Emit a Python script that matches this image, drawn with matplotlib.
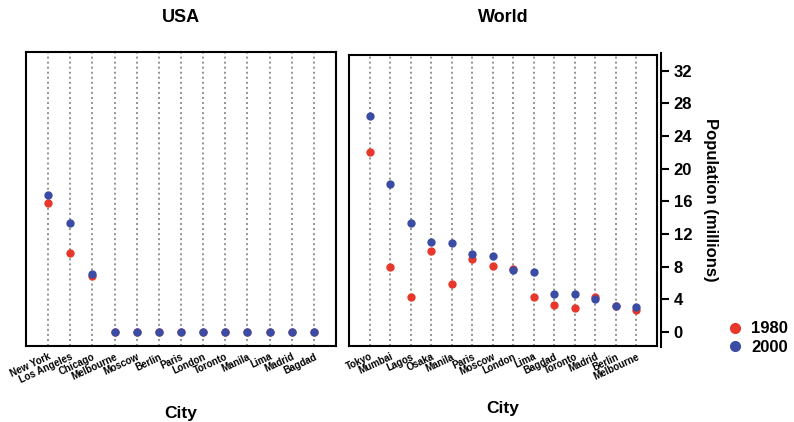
import matplotlib
matplotlib.use("Agg")
import matplotlib.pyplot as plt
from matplotlib.lines import Line2D
import numpy as np

plt.rcParams['font.family'] = ['Liberation Sans', 'DejaVu Sans']
plt.rcParams['font.weight'] = 'bold'

# ---------------- data ----------------
usa_cities = ["New York", "Los Angeles", "Chicago", "Melbourne", "Moscow", "Berlin",
              "Paris", "London", "Toronto", "Manila", "Lima", "Madrid", "Bagdad"]
usa_1980 = [15.8, 9.7, 6.9, 0, 0, 0, 0, 0, 0, 0, 0, 0, 0]
usa_2000 = [16.8, 13.3, 7.1, 0, 0, 0, 0, 0, 0, 0, 0, 0, 0]

world_cities = ["Tokyo", "Mumbai", "Lagos", "Osaka", "Manila", "Paris", "Moscow",
                "London", "Lima", "Bagdad", "Toronto", "Madrid", "Berlin", "Melbourne"]
world_1980 = [22.0, 8.0, 4.3, 9.9, 5.9, 8.9, 8.1, 7.7, 4.3, 3.3, 2.9, 4.3, 3.2, 2.7]
world_2000 = [26.5, 18.1, 13.4, 11.0, 10.9, 9.6, 9.3, 7.6, 7.35, 4.7, 4.6, 4.0, 3.2, 3.1]

years = ["1980", "2000"]
yticks = [0, 4, 8, 12, 16, 20, 24, 28, 32]

RED = "#E8382B"
BLUE = "#3B4CA5"

W, H = 794, 422
fig = plt.figure(figsize=(W / 100, H / 100), dpi=100)

# pixel -> data mapping for vertical scale (0 at y=332px, 8.166 px per unit)
def val(py):
    return (332 - py) / 8.166

def frac_box(x0, x1, y0, y1):
    return [x0 / W, 1 - y1 / H, (x1 - x0) / W, (y1 - y0) / H]


def panel(box, cities, v80, v00, title, ytop, ybot, label_pad):
    ax = fig.add_axes(box)
    x = np.arange(len(cities))
    ax.scatter(x, v80, s=36, color=RED, zorder=3, linewidths=0)
    ax.scatter(x, v00, s=36, color=BLUE, zorder=4, linewidths=0)
    ax.set_xlim(-1, len(cities))
    ax.set_ylim(val(ybot), val(ytop))
    ax.set_xticks(x)
    ax.set_xticklabels(cities, rotation=25, ha='right', va='top',
                       rotation_mode='anchor', fontsize=7, fontweight='bold')
    ax.tick_params(axis='x', length=0, pad=4)
    ax.set_yticks([])
    ax.grid(axis='x', linestyle=(0, (1.3, 2.0)), color='#777777', lw=1.1)
    ax.set_axisbelow(True)
    for s in ax.spines.values():
        s.set_linewidth(1.5)
        s.set_color('black')
    bb = ax.get_position()
    fig.text((bb.x0 + bb.x1) / 2, 1 - 17 / H, title, ha='center', va='center',
             fontsize=13, fontweight='bold')
    ax.set_xlabel("City", fontsize=12.5, fontweight='bold', labelpad=label_pad)
    return ax

ax1 = panel(frac_box(26, 336, 52, 346), usa_cities, usa_1980, usa_2000, "USA", 52, 346, 15)
ax2 = panel(frac_box(349, 657, 55, 346), world_cities, world_1980, world_2000, "World", 55, 346, 14)

# separate right y axis
ay = fig.add_axes(frac_box(660, 661, 53, 347))
ay.set_ylim(val(347), val(53))
ay.set_xticks([])
for k in ['left', 'top', 'bottom']:
    ay.spines[k].set_visible(False)
ay.spines['right'].set_linewidth(1.5)
ay.patch.set_alpha(0)
ay.yaxis.tick_right()
ay.set_yticks(yticks)
ay.set_yticklabels([str(t) for t in yticks], fontsize=12, fontweight='bold')
ay.tick_params(axis='y', direction='out', length=6, width=1.5, pad=3)
ay.yaxis.set_label_position('right')
ay.set_ylabel("Population (millions)", rotation=-90, fontsize=12, fontweight='bold',
              labelpad=19)

handles = [Line2D([], [], marker='o', ls='', color=RED, markersize=7),
           Line2D([], [], marker='o', ls='', color=BLUE, markersize=7)]
fig.legend(handles, years, loc='center left', bbox_to_anchor=(718 / W, 1 - 338 / H),
           frameon=False, prop={'size': 12, 'weight': 'bold'}, handlelength=1.0,
           handletextpad=0.5, labelspacing=0.2, borderpad=0)

fig.savefig("out.png", dpi=100)
